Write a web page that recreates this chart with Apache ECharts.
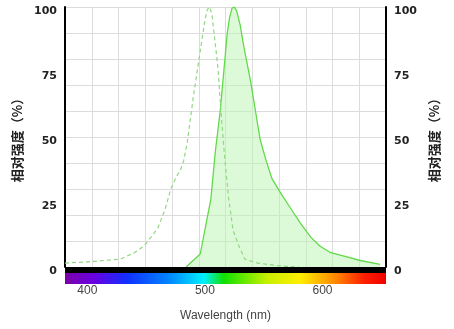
<!DOCTYPE html>
<html>
<head>
<meta charset="utf-8">
<script src="https://cdn.jsdelivr.net/npm/echarts@6/dist/echarts.min.js"></script>
<style>
  html, body { margin: 0; padding: 0; background: #fff; }
  #chart { width: 454px; height: 329px; }
</style>
</head>
<body>
<div id="chart"></div>
<script>
// wavelength range of the plot (nm)
var xMin = 381
var xMax = 654
var xTicks = [400, 500, 600]
var yTicks = [0, 25, 50, 75, 100]

// excitation spectrum (dashed)
var exWave = [381, 400, 428, 440, 448, 455, 460, 466, 471, 476, 479, 482, 485, 490, 496, 500, 502, 504, 506, 508, 511, 513, 515, 517, 520, 524, 529, 534, 545, 562, 580]
var exValue = [1.5, 2, 3, 5.5, 8, 12, 15, 22, 30, 35, 37, 41, 48, 65, 83, 95, 99, 100, 97, 89, 77, 64, 52, 41, 27, 14, 8, 3, 1.5, 0.5, 0]

// emission spectrum (solid, filled)
var emWave = [484, 496, 505, 509, 513, 516, 519, 521, 523, 525, 527, 530, 533, 539, 543, 547, 552, 557, 565, 573, 581, 590, 598, 607, 620, 632, 649]
var emValue = [0, 5, 26, 45, 60, 75, 90, 96, 99.5, 100, 98.5, 93, 85, 71, 60, 49, 41, 34, 28, 22.5, 17, 11.5, 8, 5.5, 4, 2.5, 1]

// colour bar under the axis: wavelength -> colour
var spectrumWave = [381, 405, 434, 470, 499, 516, 553, 581, 609, 635, 654]
var spectrumColor = ['#7a00a8', '#6a00e0', '#1030ff', '#0088ff', '#00f0ff', '#10e000', '#c8f000', '#ffee00', '#ff9000', '#ff2000', '#f00000']

function zip(a, b) {
  return a.map(function (v, i) { return [v, b[i]] })
}

var chart = echarts.init(document.getElementById('chart'))

var labelStyle = {
  color: '#222',
  fontFamily: 'DejaVu Sans',
  fontWeight: 'bold',
  fontSize: 11,
  verticalAlign: 'top',
  lineHeight: 8
}
var nameStyle = {
  color: '#222',
  fontFamily: 'Noto Sans CJK SC',
  fontWeight: 'bold',
  fontSize: 13
}

chart.setOption({
  animation: false,
  grid: { left: 65, right: 68, top: 7, bottom: 62 },
  xAxis: [
    {
      type: 'value',
      min: xMin,
      max: xMax,
      name: 'Wavelength (nm)',
      nameLocation: 'middle',
      nameGap: 43,
      nameTextStyle: { color: '#444', fontFamily: 'Liberation Sans', fontSize: 12 },
      axisLine: { show: false },
      axisTick: { show: false },
      splitLine: { show: false },
      axisLabel: {
        customValues: xTicks,
        margin: 18,
        color: '#444',
        fontFamily: 'Liberation Sans',
        fontSize: 12
      }
    },
    {
      // only for the evenly spaced vertical grid lines
      type: 'value',
      min: 0,
      max: 12,
      interval: 1,
      show: true,
      axisLine: { show: false },
      axisTick: { show: false },
      axisLabel: { show: false },
      splitLine: { lineStyle: { color: '#dcdcdc', width: 1 } }
    }
  ],
  yAxis: [
    {
      type: 'value',
      min: 0,
      max: 100,
      interval: 25,
      name: '相对强度（%）',
      nameLocation: 'middle',
      nameRotate: 90,
      nameGap: 37,
      nameTextStyle: nameStyle,
      axisLine: { show: true, lineStyle: { color: '#000', width: 2 } },
      axisTick: { show: false },
      splitLine: { show: false },
      axisLabel: Object.assign({ margin: 8 }, labelStyle)
    },
    {
      type: 'value',
      position: 'right',
      min: 0,
      max: 100,
      interval: 25,
      name: '相对强度（%）',
      nameLocation: 'middle',
      nameRotate: 90,
      nameGap: 34,
      nameTextStyle: nameStyle,
      axisLine: { show: true, lineStyle: { color: '#000', width: 2 } },
      axisTick: { show: false },
      splitLine: { show: false },
      axisLabel: Object.assign({ margin: 8 }, labelStyle)
    },
    {
      // horizontal grid every 10 %
      type: 'value',
      min: 0,
      max: 100,
      interval: 10,
      axisLine: { show: false },
      axisTick: { show: false },
      axisLabel: { show: false },
      splitLine: { lineStyle: { color: '#dcdcdc', width: 1 } }
    }
  ],
  series: [
    {
      name: 'Emission',
      type: 'line',
      data: zip(emWave, emValue),
      symbol: 'none',
      z: 3,
      lineStyle: { color: '#62d94a', width: 1.3 },
      areaStyle: { color: 'rgba(190, 245, 180, 0.75)' }
    },
    {
      name: 'Excitation',
      type: 'line',
      data: zip(exWave, exValue),
      symbol: 'none',
      z: 4,
      lineStyle: { color: '#90d882', width: 1.2, type: [4, 3] }
    },
    {
      // black base bar + colour spectrum bar along the wavelength axis
      type: 'custom',
      z: 5,
      clip: false,
      silent: true,
      data: [[xMin, xMax]],
      renderItem: function (params, api) {
        var p0 = api.coord([api.value(0), 0])
        var p1 = api.coord([api.value(1), 0])
        var w = p1[0] - p0[0]
        var span = xMax - xMin
        var stops = spectrumWave.map(function (nm, i) {
          return { offset: (nm - xMin) / span, color: spectrumColor[i] }
        })
        return {
          type: 'group',
          children: [
            {
              type: 'rect',
              shape: { x: p0[0], y: p0[1], width: w, height: 6 },
              style: { fill: '#000' }
            },
            {
              type: 'rect',
              shape: { x: p0[0], y: p0[1] + 6, width: w, height: 11 },
              style: { fill: new echarts.graphic.LinearGradient(0, 0, 1, 0, stops) }
            }
          ]
        }
      }
    }
  ]
})
</script>
</body>
</html>
